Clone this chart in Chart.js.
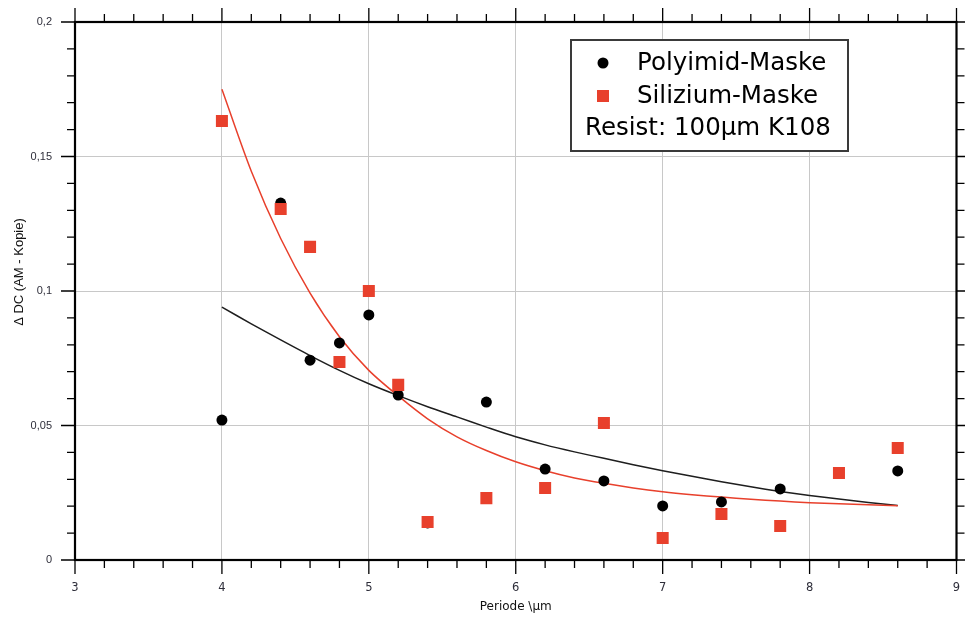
<!DOCTYPE html>
<html>
<head>
<meta charset="utf-8">
<script src="https://cdn.jsdelivr.net/npm/chart.js@4"></script>
<style>
  html, body { margin: 0; padding: 0; background: #fff; }
  #wrap { width: 965px; height: 617px; position: relative; }
</style>
</head>
<body>
<div id="wrap"><canvas id="c" width="965" height="617"></canvas></div>
<script>
// Measured ΔDC per grating period, polyimide mask
const periodPoly = [4, 4.4, 4.6, 4.8, 5, 5.2, 5.4, 5.8, 6.2, 6.6, 7, 7.4, 7.8, 8.6];
const dcPoly = [0.052, 0.1327, 0.0743, 0.0807, 0.0911, 0.0613, 0.0138, 0.0587, 0.0338, 0.0294, 0.0201, 0.0216, 0.0264, 0.0331];

// Measured ΔDC per grating period, silicon mask
const periodSili = [4, 4.4, 4.6, 4.8, 5, 5.2, 5.4, 5.8, 6.2, 6.6, 7, 7.4, 7.8, 8.2, 8.6];
const dcSili = [0.1632, 0.1305, 0.1164, 0.0736, 0.1000, 0.0651, 0.0141, 0.0230, 0.0268, 0.0509, 0.0082, 0.0171, 0.0126, 0.0323, 0.0416];

// Trend curves for both masks
const periodFit = [4, 4.2, 4.4, 4.6, 4.8, 5, 5.2, 5.4, 5.6, 5.8, 6, 6.2, 6.4, 6.6, 6.8, 7, 7.2, 7.4, 7.6, 7.8, 8, 8.2, 8.4, 8.6];
const fitPoly = [0.0940, 0.0878, 0.0818, 0.0760, 0.0705, 0.0655, 0.0611, 0.0570, 0.0532, 0.0494, 0.0458, 0.0428, 0.0402, 0.0378, 0.0354, 0.0332, 0.0311, 0.0291, 0.0272, 0.0255, 0.0240, 0.0227, 0.0214, 0.0203];
const fitSili = [0.1750, 0.1445, 0.1195, 0.0992, 0.0830, 0.0705, 0.0610, 0.0525, 0.0458, 0.0407, 0.0365, 0.0332, 0.0305, 0.0285, 0.0268, 0.0254, 0.0243, 0.0234, 0.0226, 0.0219, 0.0213, 0.0209, 0.0205, 0.0202];

// Axis tick labels
const xTickLabels = ['3', '4', '5', '6', '7', '8', '9'];
const yTickLabels = ['0', '0,05', '0,1', '0,15', '0,2'];

const seriesNames = ['Polyimid-Maske', 'Silizium-Maske'];
const noteText = 'Resist: 100µm K108';
const xTitle = 'Periode \\µm';
const yTitle = 'Δ DC (AM - Kopie)';

const RED = '#e8402c';
const BLACK = '#000000';

const zip = (xs, ys) => xs.map((x, i) => ({ x: x, y: ys[i] }));

// Frame with outward major/minor ticks on all four sides
const framePlugin = {
  id: 'frame',
  afterDraw(chart) {
    const ctx = chart.ctx;
    const { left, right, top, bottom } = chart.chartArea;
    const xs = chart.scales.x, ys = chart.scales.y;
    ctx.save();
    ctx.strokeStyle = '#000';
    ctx.lineWidth = 1.3;
    ctx.beginPath();
    for (let i = 0; i <= 30; i++) {
      const px = xs.getPixelForValue(3 + i * 0.2);
      const len = i % 5 === 0 ? 14 : 8;
      ctx.moveTo(px, bottom); ctx.lineTo(px, bottom + len);
      ctx.moveTo(px, top); ctx.lineTo(px, top - len);
    }
    for (let i = 0; i <= 20; i++) {
      const py = ys.getPixelForValue(i * 0.01);
      const len = i % 5 === 0 ? 14 : 8;
      ctx.moveTo(left, py); ctx.lineTo(left - len, py);
      ctx.moveTo(right, py); ctx.lineTo(right + len, py);
    }
    ctx.stroke();
    ctx.lineWidth = 2.2;
    ctx.strokeRect(left, top, right - left, bottom - top);

    // rotated y-axis title
    ctx.fillStyle = '#111';
    ctx.font = '13px "Liberation Sans", Arial, sans-serif';
    ctx.textAlign = 'center';
    ctx.textBaseline = 'middle';
    ctx.translate(19, 272);
    ctx.rotate(-Math.PI / 2);
    ctx.fillText(yTitle, 0, 0);
    ctx.restore();
  }
};

// Boxed legend inside the plot area
const legendPlugin = {
  id: 'boxLegend',
  afterDraw(chart) {
    const ctx = chart.ctx;
    ctx.save();
    ctx.fillStyle = '#fff';
    ctx.fillRect(571, 40, 277, 111);
    ctx.strokeStyle = '#3a3a3a';
    ctx.lineWidth = 2;
    ctx.strokeRect(571, 40, 277, 111);

    ctx.fillStyle = BLACK;
    ctx.beginPath();
    ctx.arc(603, 63, 5.5, 0, Math.PI * 2);
    ctx.fill();
    ctx.fillStyle = RED;
    ctx.fillRect(597, 90, 12, 12);

    ctx.fillStyle = '#000';
    ctx.font = '24.5px "DejaVu Sans", sans-serif';
    ctx.textAlign = 'left';
    ctx.textBaseline = 'middle';
    ctx.fillText(seriesNames[0], 637, 64);
    ctx.fillText(seriesNames[1], 637, 97);
    ctx.fillText(noteText, 585, 129);
    ctx.restore();
  }
};

new Chart(document.getElementById('c'), {
  type: 'scatter',
  data: {
    datasets: [
      {
        label: seriesNames[1],
        data: zip(periodSili, dcSili),
        pointStyle: 'rect',
        pointRadius: 8.5,
        pointBackgroundColor: RED,
        pointBorderWidth: 0,
        order: 0
      },
      {
        label: seriesNames[0],
        data: zip(periodPoly, dcPoly),
        pointStyle: 'circle',
        pointRadius: 5.5,
        pointBackgroundColor: BLACK,
        pointBorderWidth: 0,
        order: 1
      },
      {
        label: 'Fit ' + seriesNames[1],
        data: zip(periodFit, fitSili),
        showLine: true,
        pointRadius: 0,
        borderColor: RED,
        borderWidth: 1.5,
        tension: 0.3,
        order: 2
      },
      {
        label: 'Fit ' + seriesNames[0],
        data: zip(periodFit, fitPoly),
        showLine: true,
        pointRadius: 0,
        borderColor: '#1e1e1e',
        borderWidth: 1.5,
        tension: 0.3,
        order: 3
      }
    ]
  },
  options: {
    responsive: false,
    animation: false,
    layout: { padding: { top: 22, right: 5, left: 0, bottom: 0 } },
    plugins: { legend: { display: false }, tooltip: { enabled: false } },
    scales: {
      x: {
        type: 'linear',
        min: 3, max: 9,
        afterFit(s) { s.height = 57; s.paddingLeft = 0; s.paddingRight = 0; },
        afterBuildTicks(s) { s.ticks = xTickLabels.map(t => ({ value: parseFloat(t) })); },
        ticks: {
          callback: (v, i) => xTickLabels[i],
          padding: 21,
          color: '#2e2e3a',
          font: { family: '"DejaVu Sans", sans-serif', size: 11.5 },
          maxRotation: 0
        },
        grid: { color: '#c8c8c8', lineWidth: 1, drawTicks: false },
        border: { display: false },
        title: {
          display: true,
          text: xTitle,
          color: '#111',
          font: { family: '"DejaVu Sans", sans-serif', size: 12 },
          padding: { top: 0, bottom: 3 }
        }
      },
      y: {
        min: 0, max: 0.2,
        afterFit(s) { s.width = 75; s.paddingTop = 0; s.paddingBottom = 0; },
        afterBuildTicks(s) { s.ticks = yTickLabels.map((t, i) => ({ value: i * 0.05 })); },
        ticks: {
          callback: (v, i) => yTickLabels[i],
          padding: 23,
          color: '#2e2e3a',
          font: { family: '"Liberation Sans", Arial, sans-serif', size: 11 }
        },
        grid: { color: '#c8c8c8', lineWidth: 1, drawTicks: false },
        border: { display: false }
      }
    }
  },
  plugins: [framePlugin, legendPlugin]
});
</script>
</body>
</html>
